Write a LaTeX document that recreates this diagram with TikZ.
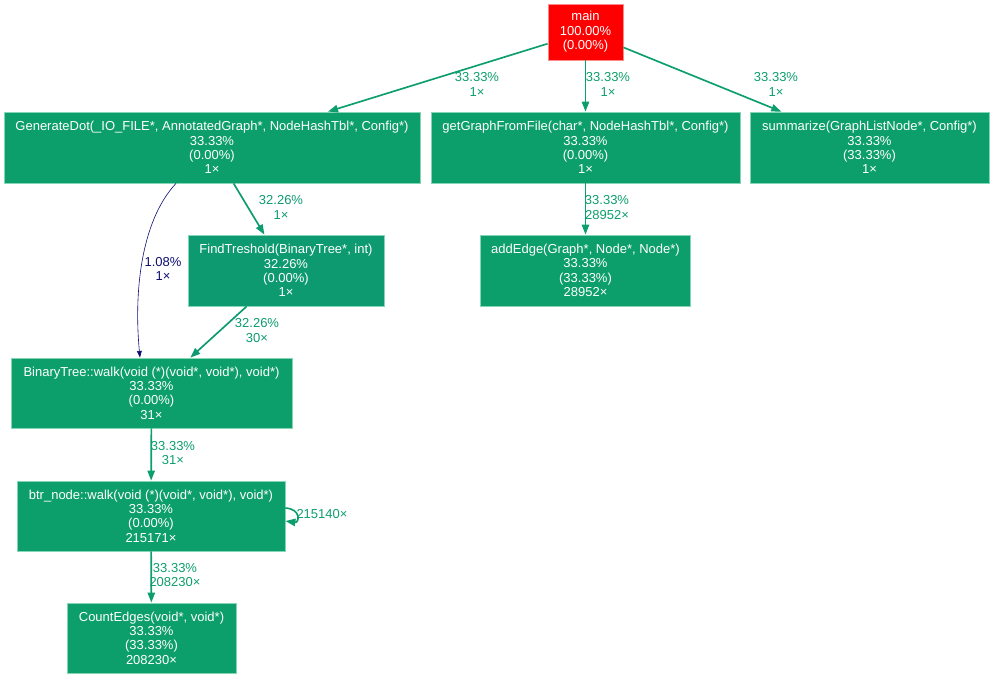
\documentclass[tikz,border=0pt]{standalone}
\usepackage{fontspec}
\setmainfont{Liberation Sans}
\usetikzlibrary{arrows.meta,calc}

\definecolor{hot}{HTML}{FF0000}
\definecolor{hotline}{HTML}{FF8A8A}
\definecolor{warm}{HTML}{0D9F6B}
\definecolor{warmb}{HTML}{0D9A70}
\definecolor{warmline}{HTML}{84D6B5}
\definecolor{cold}{HTML}{0D0D73}

\tikzset{
  fn/.style={draw=warmline, line width=0.6pt, fill=warm, text=white,
    rectangle, inner sep=0pt, align=center,
    font=\fontsize{9.75pt}{10.8pt}\selectfont},
  hotfn/.style={fn, fill=hot, draw=hotline},
  call/.style={draw=warm, line width=1.25pt,
    -{Triangle[length=7.5pt,width=5.5pt]}},
  callb/.style={call, draw=warmb},
  faint/.style={draw=cold, line width=0.45pt,
    -{Triangle[length=5pt,width=3.6pt]}},
  lbl/.style={text=warm, align=center, inner sep=0pt,
    font=\fontsize{9.75pt}{10.8pt}\selectfont},
  lblb/.style={lbl, text=warmb},
  lblc/.style={lbl, text=cold}
}

\begin{document}
\begin{tikzpicture}[x=0.75pt, y=-0.75pt]
\useasboundingbox (0,0) rectangle (994,679);

% call-graph nodes
\node[hotfn, minimum width=56.25pt, minimum height=42pt] (main) at (585.5,32)
  {main\\100.00\%\\(0.00\%)};
\node[fn, minimum width=312pt, minimum height=53.25pt] (gd) at (212,147.5)
  {GenerateDot(\_IO\_FILE*, AnnotatedGraph*, NodeHashTbl*, Config*)\\33.33\%\\(0.00\%)\\1×};
\node[fn, minimum width=231.75pt, minimum height=53.25pt] (gg) at (585.5,147.5)
  {getGraphFromFile(char*, NodeHashTbl*, Config*)\\33.33\%\\(0.00\%)\\1×};
\node[fn, minimum width=179.25pt, minimum height=53.25pt] (sum) at (869.5,147.5)
  {summarize(GraphListNode*, Config*)\\33.33\%\\(33.33\%)\\1×};
\node[fn, fill=warmb, minimum width=147pt, minimum height=53.25pt] (ft) at (286,270.5)
  {FindTreshold(BinaryTree*, int)\\32.26\%\\(0.00\%)\\1×};
\node[fn, minimum width=157.5pt, minimum height=53.25pt] (ae) at (585.5,270.5)
  {addEdge(Graph*, Node*, Node*)\\33.33\%\\(33.33\%)\\28952×};
\node[fn, minimum width=210.75pt, minimum height=52.5pt] (bt) at (151.5,393)
  {BinaryTree::walk(void (*)(void*, void*), void*)\\33.33\%\\(0.00\%)\\31×};
\node[fn, minimum width=201pt, minimum height=52.5pt] (btr) at (151,516)
  {btr\_node::walk(void (*)(void*, void*), void*)\\33.33\%\\(0.00\%)\\215171×};
\node[fn, minimum width=126.75pt, minimum height=52.5pt] (ce) at (151.5,638)
  {CountEdges(void*, void*)\\33.33\%\\(33.33\%)\\208230×};

% calls
\draw[call] (main) -- (gd);
\draw[call] (main.south) -- (main.south |- gg.north);
\draw[call] (main) -- (sum);
\draw[call] (gg) -- (ae);
\draw[callb] (gd) -- (ft);
\draw[callb] (ft) -- (bt);
\draw[faint] ($(gd.south)+(-36,0)$) .. controls (140,222) and (134,295) .. ($(bt.north)+(-11.5,0)$);
\draw[call] (bt) -- (btr);
\draw[call] ($(btr.east)+(0,-8)$) .. controls +(16,1) and +(14,2) .. ($(btr.east)+(0,5)$);
\draw[call] (btr) -- (ce);

% call labels
\node[lbl] (l1) at (477,84.5) {33.33\%\\1×};
\node[lbl] (l2) at (608,84.5) {33.33\%\\1×};
\node[lbl] (l3) at (776,84.5) {33.33\%\\1×};
\node[lbl] (l4) at (607,207.5) {33.33\%\\28952×};
\node[lblb] (l5) at (281,207.5) {32.26\%\\1×};
\node[lblc] (l6) at (163,269) {1.08\%\\1×};
\node[lblb] (l7) at (257,330.5) {32.26\%\\30×};
\node[lbl] (l8) at (173,453) {33.33\%\\31×};
\node[lbl] (l9) at (322,514) {215140×};
\node[lbl] (l10) at (175,575) {33.33\%\\208230×};
\end{tikzpicture}
\end{document}
